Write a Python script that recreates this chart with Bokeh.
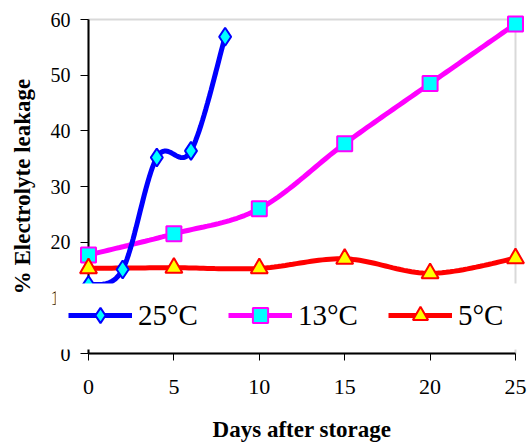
import numpy as np
from bokeh.plotting import figure
from bokeh.models import Range1d, FixedTicker, BoxAnnotation, Legend, LegendItem
from bokeh.embed import file_html
from bokeh.resources import INLINE

# ---- data ----
days_25 = [0, 2, 4, 6, 8]
leak_25 = [12.3, 15.1, 35.2, 36.4, 56.9]
days_13 = [0, 5, 10, 15, 20, 25]
leak_13 = [17.7, 21.5, 26.0, 37.7, 48.5, 59.2]
days_5 = [0, 5, 10, 15, 20, 25]
leak_5 = [15.3, 15.4, 15.3, 17.0, 14.4, 17.1]
series_names = ["25°C", "13°C", "5°C"]
x_ticks = [0, 5, 10, 15, 20, 25]
y_ticks = [0, 10, 20, 30, 40, 50, 60]
x_title = "Days after storage"
y_title = "% Electrolyte leakage"

X_MIN, X_MAX = 0, 25
Y_MIN, Y_MAX = 0, 60


def smooth(xs, ys, n=24):
    """Excel-like smoothed line (Catmull-Rom Bezier) through the data points."""
    P = np.column_stack([xs, ys]).astype(float)
    ox, oy = [], []
    for i in range(len(P) - 1):
        p0 = P[i - 1] if i > 0 else P[i]
        p1, p2 = P[i], P[i + 1]
        p3 = P[i + 2] if i + 2 < len(P) else P[i + 1]
        c1 = p1 + (p2 - p0) / 6.0
        c2 = p2 - (p3 - p1) / 6.0
        t = np.linspace(0, 1, n)[:, None]
        b = ((1 - t) ** 3) * p1 + 3 * ((1 - t) ** 2) * t * c1 + 3 * (1 - t) * t ** 2 * c2 + t ** 3 * p2
        if i > 0:
            b = b[1:]
        ox.extend(b[:, 0]); oy.extend(b[:, 1])
    return ox, oy


W, H = 529, 443
# plot area (pixels) of the data rectangle inside the figure
PL, PR, PT, PB = 88, 515, 19, 353
PX_X = (PR - PL) / (X_MAX - X_MIN)
PX_Y = (PB - PT) / (Y_MAX - Y_MIN)

p = figure(width=W, height=H,
           x_range=Range1d(X_MIN - PL / PX_X, X_MAX + (W - PR) / PX_X),
           y_range=Range1d(Y_MIN - (H - PB) / PX_Y, Y_MAX + PT / PX_Y),
           output_backend="svg", toolbar_location=None,
           min_border_left=0, min_border_right=0, min_border_top=0, min_border_bottom=0)
p.outline_line_color = None
p.xgrid.visible = False
p.ygrid.visible = False
p.background_fill_color = "white"
p.border_fill_color = "white"

frame_box = BoxAnnotation(left=X_MIN, right=X_MAX, bottom=Y_MIN, top=Y_MAX,
                          fill_alpha=0, line_color="#808080", line_width=2, level="underlay")
p.add_layout(frame_box)

for ax in (p.xaxis[0], p.yaxis[0]):
    ax.fixed_location = 0
    ax.axis_line_color = "black"
    ax.axis_line_width = 2
    ax.major_tick_line_color = "black"
    ax.major_tick_line_width = 1
    ax.major_tick_in = 0
    ax.minor_tick_line_color = None
    ax.major_label_text_font = "Liberation Serif"
    ax.major_label_text_color = "black"
    ax.axis_label_text_font = "Liberation Serif"
    ax.axis_label_text_font_style = "bold"
    ax.axis_label_text_font_size = "23px"
    ax.axis_label_text_color = "black"

p.xaxis[0].bounds = (X_MIN, X_MAX)
p.yaxis[0].bounds = (Y_MIN, Y_MAX)
p.xaxis[0].ticker = FixedTicker(ticks=x_ticks)
p.yaxis[0].ticker = FixedTicker(ticks=y_ticks)
p.xaxis[0].major_tick_out = 7
p.yaxis[0].major_tick_out = 8
p.xaxis[0].major_label_standoff = 19
p.yaxis[0].major_label_standoff = 10
p.xaxis[0].major_label_text_font_size = "22px"
p.yaxis[0].major_label_text_font_size = "20px"
p.xaxis[0].axis_label = x_title
p.yaxis[0].axis_label = y_title
p.xaxis[0].axis_label_standoff = 20
p.yaxis[0].axis_label_standoff = 13

# draw order: 13°C, 5°C, then 25°C on top
sx13, sy13 = smooth(days_13, leak_13)
sx5, sy5 = smooth(days_5, leak_5)
sx25, sy25 = smooth(days_25, leak_25)

l13 = p.line(sx13, sy13, line_color="#FF00FF", line_width=5, level="annotation")
m13 = p.scatter(days_13, leak_13, marker="square", size=15, fill_color="#00FFFF",
                line_color="#FF00FF", line_width=2, level="annotation")
l5 = p.line(sx5, sy5, line_color="#FF0000", line_width=5, level="annotation")
m5 = p.scatter(days_5, leak_5, marker="triangle", size=17, fill_color="#FFFF00",
               line_color="#FF0000", line_width=2, level="annotation")
l25 = p.line(sx25, sy25, line_color="#0000FF", line_width=5, level="annotation")
m25 = p.scatter(days_25, leak_25, marker="diamond", size=18, fill_color="#00FFFF",
                line_color="#0000FF", line_width=2, level="annotation")

# white legend panel (Excel legend box without border), drawn beneath the legend entries
legend_panel = BoxAnnotation(left=55, right=520, top=H - 283, bottom=H - 349,
                             left_units="screen", right_units="screen",
                             top_units="screen", bottom_units="screen",
                             fill_color="white", fill_alpha=1.0, line_color=None,
                             level="overlay")
p.add_layout(legend_panel)

legend = Legend(items=[LegendItem(label=series_names[0], renderers=[l25, m25]),
                       LegendItem(label=series_names[1], renderers=[l13, m13]),
                       LegendItem(label=series_names[2], renderers=[l5, m5])],
                orientation="horizontal", location=(68, H - 334), margin=0,
                glyph_width=64, glyph_height=38, padding=13, spacing=30, label_standoff=6,
                label_text_font="Liberation Serif", label_text_font_size="29px",
                label_text_color="black", border_line_color=None,
                background_fill_color="white", background_fill_alpha=1.0, level="overlay")
p.add_layout(legend)

open("out.html", "w").write(file_html(p, INLINE))
